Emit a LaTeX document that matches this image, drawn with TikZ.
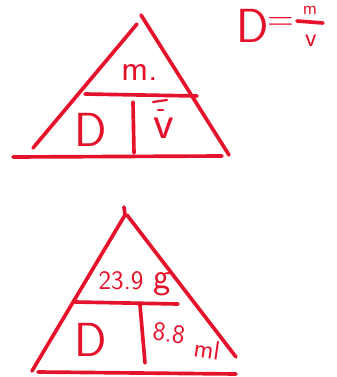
\documentclass[tikz,border=0pt]{standalone}
\usetikzlibrary{positioning}
\definecolor{ink}{RGB}{228,18,42}

\begin{document}
\begin{tikzpicture}[
  x=0.025cm, y=-0.025cm,
  pen/.style={draw=ink, line width=2.6pt, line cap=round},
  thinpen/.style={draw=ink, line width=1.6pt, line cap=round},
  big/.style={text=ink, inner sep=0pt, font=\sffamily\fontsize{34}{38}\selectfont},
  mid/.style={text=ink, inner sep=0pt, font=\sffamily\fontsize{26}{30}\selectfont},
  small/.style={text=ink, inner sep=0pt, font=\sffamily\fontsize{19}{22}\selectfont},
  tiny/.style={text=ink, inner sep=0pt, font=\sffamily\fontsize{13}{15}\selectfont},
]

  \useasboundingbox (0,0) rectangle (337,377);

  % -------------------------------------------------------
  %  Top triangle (symbols)
  % -------------------------------------------------------
  \coordinate (tTopL) at (137,24);
  \coordinate (tLeft) at (33,148);
  \coordinate (tTopR) at (141,15);
  \coordinate (tRight) at (229,155);
  \coordinate (tMidL) at (85,94);
  \coordinate (tMidR) at (197,96);
  \coordinate (tDivT) at (133,102);
  \coordinate (tDivB) at (134,153);
  \coordinate (tBaseL) at (13,157);
  \coordinate (tBaseR) at (222,156);

  \draw[pen] (tLeft) -- (tTopL);
  \draw[pen] (tTopR) -- (tRight);
  \draw[pen] (tMidL) -- (tMidR);
  \draw[pen] (tDivT) -- (tDivB);
  \draw[pen] (tBaseL) -- (tBaseR);

  \node[mid] (tMass) at (140,72) {m.};
  \node[big] (tDens) at (91,130) {D};
  \node[big] (tVol)  at (164,128) {v};

  % bar over v
  \coordinate (tBarL) at (153,102);
  \coordinate (tBarR) at (167,100);
  \coordinate (tTickL) at (158,110);
  \coordinate (tTickR) at (163,110);
  \draw[thinpen] (tBarL) -- (tBarR);
  \draw[thinpen] (tTickL) -- (tTickR);

  % -------------------------------------------------------
  %  Formula, top right
  % -------------------------------------------------------
  \node[big] (fDens) at (253,26) {D};
  \node[mid] (fEq) at (281,24) {=};
  \node[tiny] (fMass) at (310,10) {m};
  \node[small] (fVol) at (311,41) {v};
  \coordinate (fBarL) at (297,21);
  \coordinate (fBarR) at (323,23);
  \draw[pen] (fBarL) -- (fBarR);

  % -------------------------------------------------------
  %  Bottom triangle (values)
  % -------------------------------------------------------
  \coordinate (bApex) at (124,207);
  \coordinate (bTopL) at (125,215);
  \coordinate (bLeft) at (32,371);
  \coordinate (bTopR) at (127,215);
  \coordinate (bRight) at (236,357);
  \coordinate (bMidL) at (75,302);
  \coordinate (bMidR) at (178,304);
  \coordinate (bDivT) at (140,305);
  \coordinate (bDivB) at (145,363);
  \coordinate (bBaseL) at (38,372);
  \coordinate (bBaseR) at (236,374);

  \draw[pen] (bApex) -- (bTopL);
  \draw[pen] (bLeft) -- (bTopL);
  \draw[pen] (bTopR) -- (bRight);
  \draw[pen] (bMidL) -- (bMidR);
  \draw[pen] (bDivT) -- (bDivB);
  \draw[pen] (bBaseL) -- (bBaseR);

  \node[small] (bMass) at (121,281) {23.9};
  \node[mid]   (bUnitG) at (162,284) {g};
  \node[big]   (bDens) at (91,340) {D};
  \node[small, rotate=-8] (bVol) at (169,333) {8.8};
  \node[small, rotate=-8] (bUnitMl) at (207,349) {ml};

\end{tikzpicture}
\end{document}
